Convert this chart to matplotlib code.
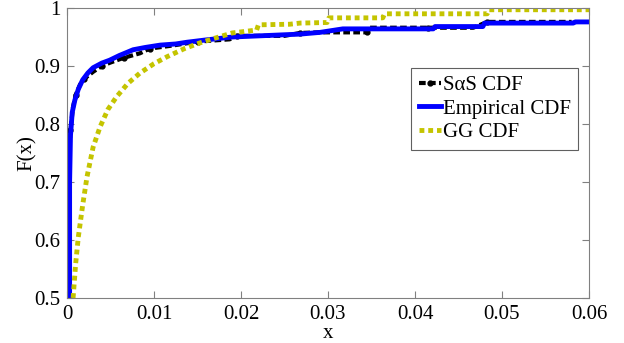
import matplotlib
matplotlib.use('Agg')
import matplotlib.pyplot as plt

# values
sas_x = [0.0002, 0.0002, 0.0004, 0.0007, 0.001, 0.0015, 0.002, 0.003, 0.004, 0.005,
         0.0065, 0.0084, 0.0095, 0.012, 0.015, 0.0187, 0.0195, 0.025, 0.0268, 0.029,
         0.0345, 0.0347, 0.0415, 0.0467, 0.0483, 0.058]
sas_y = [0.5, 0.72, 0.79, 0.83, 0.85, 0.868, 0.878, 0.89, 0.9, 0.906,
         0.914, 0.922, 0.93, 0.935, 0.942, 0.946, 0.952, 0.952, 0.957, 0.958,
         0.958, 0.966, 0.966, 0.966, 0.976, 0.976]

emp_x = [0.0003, 0.0003, 0.0004, 0.0006, 0.0009, 0.0013, 0.0018, 0.0024, 0.003, 0.004,
         0.0049, 0.006, 0.0076, 0.009, 0.0107, 0.0125, 0.0138, 0.016, 0.019, 0.0268,
         0.0291, 0.0317, 0.0421, 0.0423, 0.0478, 0.048, 0.0582, 0.0584, 0.06]
emp_y = [0.5, 0.7, 0.78, 0.82, 0.841, 0.86, 0.876, 0.888, 0.897, 0.905,
         0.91, 0.918, 0.928, 0.932, 0.936, 0.938, 0.941, 0.945, 0.95, 0.955,
         0.958, 0.964, 0.964, 0.968, 0.968, 0.974, 0.974, 0.976, 0.976]

gg_x = [0.0007, 0.001, 0.0013, 0.0018, 0.0023, 0.003, 0.0038, 0.0047, 0.0057, 0.007,
        0.0084, 0.01, 0.0115, 0.0135, 0.0153, 0.017, 0.019, 0.0218, 0.022, 0.0256,
        0.0268, 0.0299, 0.0301, 0.0363, 0.0365, 0.0483, 0.0485, 0.06]
gg_y = [0.5, 0.56, 0.605, 0.66, 0.709, 0.76, 0.795, 0.825, 0.847, 0.87,
        0.888, 0.904, 0.916, 0.93, 0.94, 0.948, 0.957, 0.962, 0.971, 0.972,
        0.974, 0.975, 0.983, 0.983, 0.99, 0.99, 0.997, 0.997]

xticks = [0, 0.01, 0.02, 0.03, 0.04, 0.05, 0.06]
xticklabels = ['0', '0.01', '0.02', '0.03', '0.04', '0.05', '0.06']
yticks = [0.5, 0.6, 0.7, 0.8, 0.9, 1]
yticklabels = ['0.5', '0.6', '0.7', '0.8', '0.9', '1']

plt.rcParams['font.family'] = ['Liberation Serif', 'DejaVu Serif']

fig = plt.figure(figsize=(6.24, 3.43), dpi=100)
ax = fig.add_axes([67 / 624, 1 - 298 / 343, 522 / 624, 290 / 343])

ax.plot(sas_x, sas_y, color='black', lw=3, dashes=(1.6, 0.8), marker='o', ms=3.5,
        markevery=2, label='S\u03b1S CDF')
ax.plot(emp_x, emp_y, '-', color='#0000ff', lw=3.5, label='Empirical CDF')
ax.plot(gg_x, gg_y, color='#c4c400', lw=3.5, dashes=(1, 0.8), label='GG CDF')

ax.set_xlim(0, 0.06)
ax.set_ylim(0.5, 1)
ax.set_xticks(xticks)
ax.set_xticklabels(xticklabels)
ax.set_yticks(yticks)
ax.set_yticklabels(yticklabels)
ax.tick_params(direction='in', length=5, top=True, right=True, labelsize=15,
               color='#808080', pad=5)
for s in ax.spines.values():
    s.set_color('#808080')

ax.set_xlabel('x', fontsize=15, labelpad=0)
ax.set_ylabel('F(x)', fontsize=15, labelpad=-2)

leg = ax.legend(loc='upper right', bbox_to_anchor=(511 / 522, 230 / 290),
                fontsize=15, handlelength=1.05, handletextpad=0.1,
                borderpad=0.35, labelspacing=0.2, borderaxespad=0,
                fancybox=False, framealpha=1)
leg.get_frame().set_edgecolor('#606060')
leg.get_frame().set_linewidth(0.8)

fig.savefig('out.png', dpi=100)
